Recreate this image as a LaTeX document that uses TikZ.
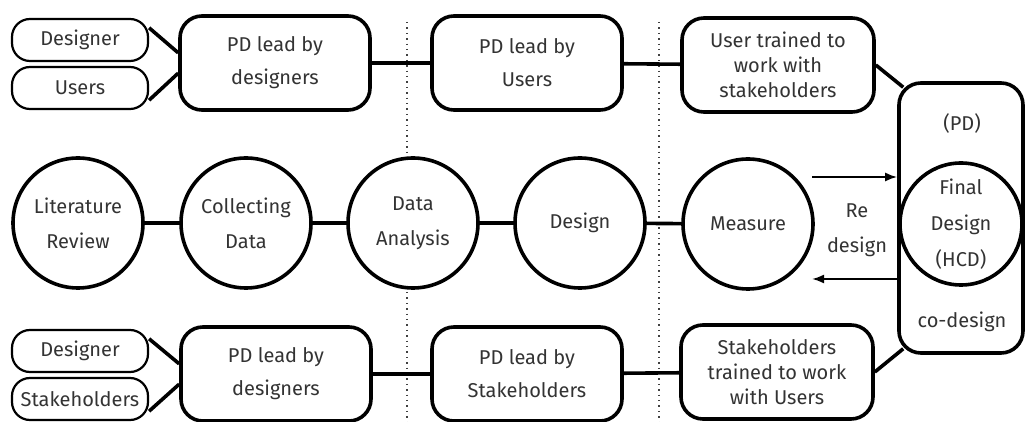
\documentclass[tikz,border=0pt]{standalone}
\usepackage{fontspec}
\setmainfont{Fira Sans}
\usepackage{tikz}
\usetikzlibrary{arrows.meta,calc}

\tikzset{
	smallbox/.style={draw,rounded corners=9pt,line width=1.1pt,minimum width=68pt,minimum height=21pt,inner sep=0pt},
	pdbox/.style={draw,fill=white,rounded corners=11pt,line width=1.8pt,minimum width=95pt,minimum height=47pt,align=center,inner sep=0pt},
	stage/.style={circle,draw,fill=white,line width=1.8pt,minimum size=65pt,align=center,inner sep=0pt},
	link/.style={line width=1.8pt},
	redo/.style={line width=1pt,-{Latex[length=6pt,width=4.5pt]}},
	sep/.style={dotted,line width=0.7pt,black!75},
}

\begin{document}
\begin{tikzpicture}[x=0.5pt,y=-0.5pt,font=\fontsize{10}{12.5}\selectfont,text=black!80]
			\useasboundingbox (0,0) rectangle (1025,422);

			% phase borders
			\draw[sep] (407,22) -- (407,422);
			\draw[sep] (659,22) -- (659,422);

			% top row
				\node[smallbox] (desA) at(80,40){Designer};
				\node[smallbox] (usr) at(80,88){Users};
				\node[pdbox] (pdA) at(275,63){PD lead by\\[4pt]designers};
				\node[pdbox] (pdB) at(527,63){PD lead by\\[4pt]Users};
				\node[pdbox,minimum width=96pt] (utr) at(778,65){User trained to\\work with\\stakeholders};

			% middle row
				\node[stage] (lit) at(78,223){Literature\\[5pt]Review};
				\node[stage] (col) at(246,223){Collecting\\[5pt]Data};
				\node[stage] (ana) at(413,223){Data\\[5pt]Analysis};
				\node[stage] (dsg) at(580,223){Design};
				\node[stage] (mea) at(748,224){Measure};
				\node[draw,rounded corners=11pt,line width=1.8pt,minimum width=62pt,minimum height=135pt,inner sep=0pt] (fbox) at(961,218){};
				\node (pd) at(962,124){(PD)};
				\node[stage,minimum size=61pt] (fin) at(961,224){Final\\[5.5pt]Design\\[5.5pt](HCD)};
				\node (cod) at(962,322){co-design};
				\node[align=center] (rd) at(857,230){Re\\[5pt]design};

			% bottom row
				\node[smallbox] (desB) at(80,351){Designer};
				\node[smallbox] (stk) at(80,399){Stakeholders};
				\node[pdbox] (pdC) at(276,374){PD lead by\\[4pt]designers};
				\node[pdbox] (pdD) at(527,374){PD lead by\\[4pt]Stakeholders};
				\node[pdbox,minimum width=96pt] (str) at(777,372){Stakeholders\\trained to work\\with Users};

			% connectors
			\draw[link] (desA.10) -- (pdA.174);
			\draw[link] (usr.-10) -- (pdA.186);
			\draw[link] (pdA) -- (pdB) -- (utr);
			\draw[link] (utr.east) -- ($(fbox.north west)+(6,6)$);
			\draw[link] (lit) -- (col) -- (ana) -- (dsg) -- (mea);
			\draw[link] (desB.10) -- (pdC.174);
			\draw[link] (stk.-10) -- (pdC.186);
			\draw[link] (pdC) -- (pdD) -- (str);
			\draw[link] (str.east) -- ($(fbox.south west)+(6,-6)$);

			\coordinate (r1) at(812,177);
			\coordinate (r2) at(812,279);
			\draw[redo] (r1) -- (r1 -| fbox.west);
			\draw[redo] (r2 -| fbox.west) -- (r2);
\end{tikzpicture}
\end{document}
